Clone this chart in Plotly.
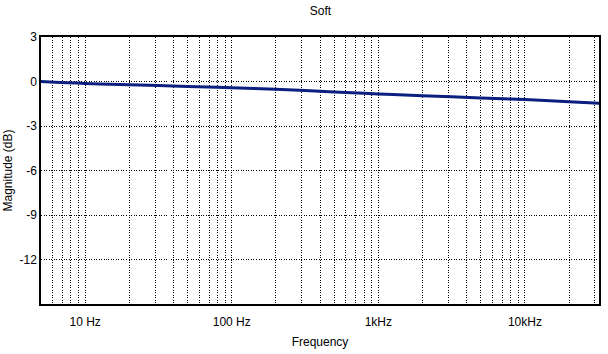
import numpy as np
import plotly.graph_objects as go

# Data
freqs = [5, 10, 20, 50, 100, 200, 500, 1000, 2000, 5000, 10000, 20000, 32000]
mag_db = [0.0, -0.13, -0.22, -0.33, -0.42, -0.53, -0.70, -0.84, -0.96, -1.11, -1.22, -1.36, -1.46]

decade_vals = [10, 100, 1000, 10000]
decade_text = ["10 Hz", "100 Hz", "1kHz", "10kHz"]
y_ticks = [3, 0, -3, -6, -9, -12, -15]
y_text = ["3", "0", "-3", "-6", "-9", "-12", ""]

# grid positions: 1..9 x each decade, within range
grid_vals = []
for d in [1, 10, 100, 1000, 10000]:
    for m in range(1, 10):
        v = m * d
        if 5 <= v <= 32000:
            grid_vals.append(v)
grid_text = [decade_text[decade_vals.index(v)] if v in decade_vals else "" for v in grid_vals]

font = dict(family="Liberation Sans, Arial, sans-serif", size=12, color="black")

fig = go.Figure()
fig.add_trace(go.Scatter(
    x=freqs, y=mag_db, mode="lines",
    line=dict(color="#0a1f80", width=3, shape="spline"),
    hoverinfo="skip", showlegend=False,
))

fig.update_layout(
    width=608, height=354,
    margin=dict(l=40, r=7, t=37, b=50),
    paper_bgcolor="white", plot_bgcolor="white",
    font=font,
    title=dict(text="Soft", x=(40 + 601) / 2 / 608, xanchor="center",
               y=1 - 11 / 354, yanchor="middle", font=dict(size=12)),
)
fig.update_xaxes(
    type="log", range=[np.log10(5), np.log10(32000)],
    tickmode="array", tickvals=grid_vals, ticktext=grid_text,
    showgrid=True, gridcolor="black", griddash="1px,1.5px", gridwidth=1,
    showline=True, linecolor="black", linewidth=1.5, mirror=True,
    ticks="", zeroline=False,
    title=dict(text="Frequency", standoff=9, font=dict(size=12)),
    ticklabelstandoff=6,
)
fig.update_yaxes(
    range=[-15, 3],
    tickmode="array", tickvals=y_ticks, ticktext=y_text,
    showgrid=True, gridcolor="black", griddash="1px,1.5px", gridwidth=1,
    showline=True, linecolor="black", linewidth=1.5, mirror=True,
    ticks="", zeroline=False,
    title=dict(text="Magnitude (dB)", standoff=4, font=dict(size=12)),
)

fig.write_html("out.html")
